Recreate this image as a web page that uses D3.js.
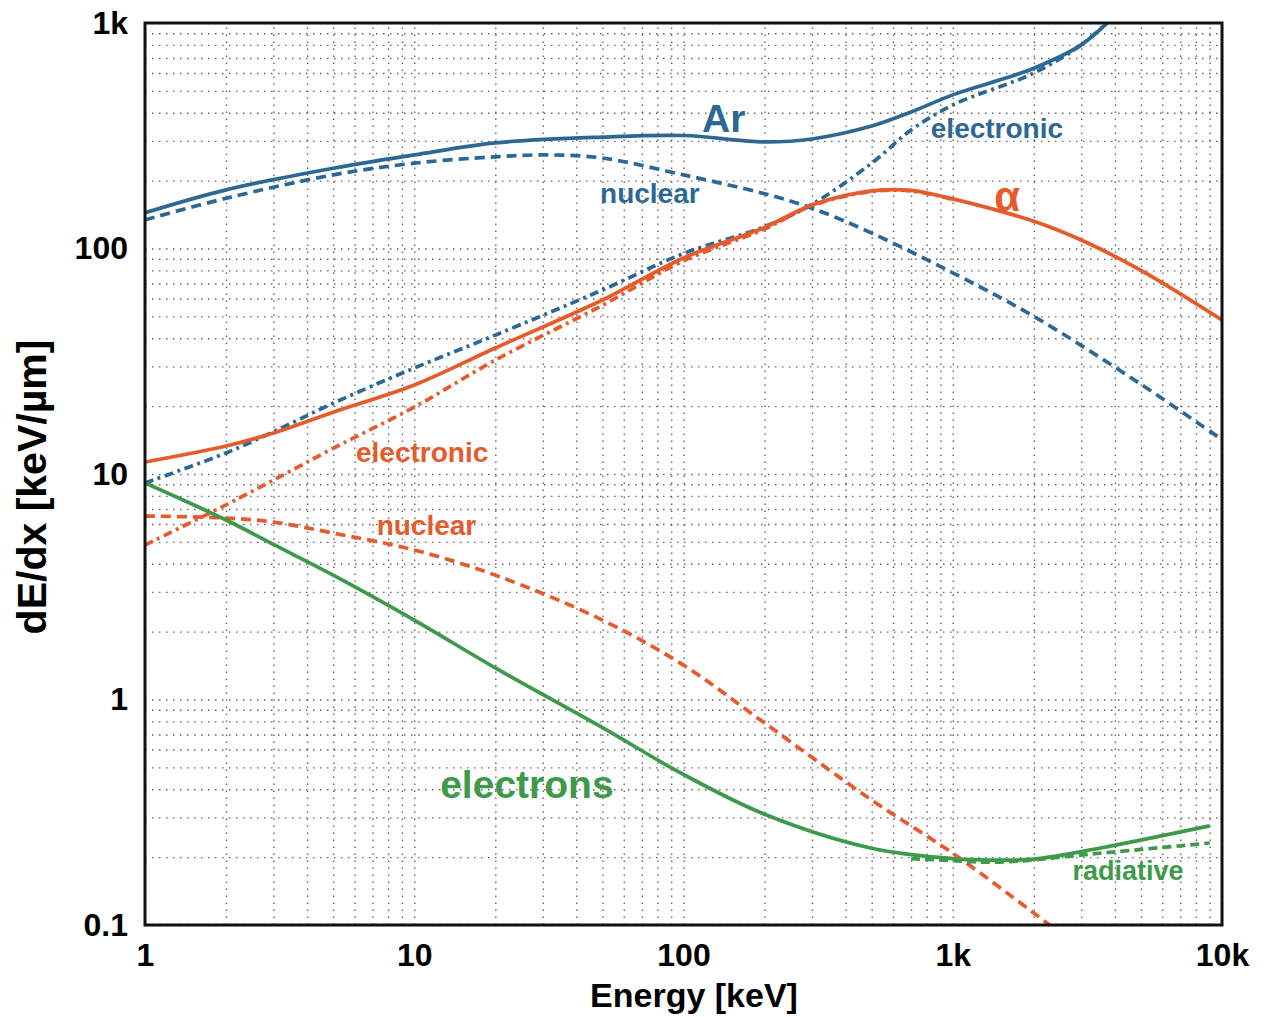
<!DOCTYPE html>
<html>
<head>
<meta charset="utf-8">
<script src="https://cdn.jsdelivr.net/npm/d3@7"></script>
<style>
  body { margin: 0; background: #fff; }
  text { font-family: "Liberation Sans", Arial, Helvetica, sans-serif; font-weight: bold; }
</style>
</head>
<body>
<svg id="chart"></svg>
<script>
// energies in keV, dE/dx in keV/um
var arE        = [1, 2, 5, 10, 20, 50, 100, 200, 300, 500, 700, 1000, 1500, 2000, 3000, 4000];
var arTotal    = [144, 182, 227, 260, 294, 312, 317, 297, 306, 349, 403, 480, 560, 630, 800, 1080];

var arNucE     = [1, 2, 5, 10, 20, 30, 50, 100, 200, 300, 500, 1000, 2000, 5000, 10000];
var arNuclear  = [134, 167, 212, 239, 255, 260, 252, 212, 175, 151, 117, 78, 50, 25, 14.2];

var arElE      = [1, 2, 3, 5, 10, 20, 50, 100, 200, 300, 500, 700, 1000, 2000, 3000, 4000];
var arElectr   = [9.12, 12.4, 15.4, 20.6, 29.5, 41.3, 65.5, 95, 125, 157, 239, 335, 433, 600, 800, 1080];

var alphaE     = [1, 2, 3, 5, 10, 20, 50, 100, 200, 300, 500, 700, 1000, 2000, 3000, 5000, 10000];
var alphaTotal = [11.3, 13.3, 15.2, 18.8, 24.8, 36.2, 59.1, 90.8, 124, 156, 180, 181, 166, 132, 109, 80, 48.2];

var alphaElE   = [1, 2, 3, 5, 10, 20, 50, 100, 200, 300, 500, 700, 1000];
var alphaElectr= [4.84, 7.3, 9.4, 13.0, 19.8, 32, 56, 88, 122, 155, 179, 180, 165];

var alphaNucE  = [1, 2, 3, 5, 10, 20, 50, 100, 200, 500, 1000, 2000, 3000];
var alphaNuc   = [6.51, 6.38, 6.12, 5.47, 4.6, 3.56, 2.25, 1.42, 0.787, 0.358, 0.208, 0.113, 0.078];

var elE        = [1, 2, 3, 5, 10, 20, 50, 100, 200, 500, 1000, 1500, 2000, 3500, 9000];
var elTotal    = [9.12, 6.25, 4.87, 3.56, 2.25, 1.38, 0.75, 0.465, 0.31, 0.219, 0.197, 0.194, 0.196, 0.219, 0.275];

var radE       = [700, 1000, 1500, 3500, 9000];
var radiative  = [0.197, 0.193, 0.19, 0.208, 0.231];

var xTicks = [1, 10, 100, 1000, 10000];
var xTickLabels = ["1", "10", "100", "1k", "10k"];
var yTicks = [0.1, 1, 10, 100, 1000];
var yTickLabels = ["0.1", "1", "10", "100", "1k"];

var blue = "#2c6893", orange = "#e65a2c", green = "#3e9a4a";

var width = 1264, height = 1017;
var margin = {left: 145, right: 42, top: 23, bottom: 92};
var plotW = width - margin.left - margin.right;
var plotH = height - margin.top - margin.bottom;

var svg = d3.select("#chart")
    .attr("width", width)
    .attr("height", height);

var x = d3.scaleLog().domain([1, 10000]).range([0, plotW]);
var y = d3.scaleLog().domain([0.1, 1000]).range([plotH, 0]);

var g = svg.append("g")
    .attr("transform", "translate(" + margin.left + "," + margin.top + ")");

// minor grid values 1..9 per decade
function minorVals(lo, hi) {
    var out = [];
    for (var p = lo; p < hi; p++) {
        for (var m = 1; m <= 9; m++) out.push(m * Math.pow(10, p));
    }
    out.push(Math.pow(10, hi));
    return out.map(function(v) { return +v.toPrecision(3); });
}

g.append("g")
    .attr("class", "grid")
    .attr("transform", "translate(0," + plotH + ")")
    .call(d3.axisBottom(x).tickValues(minorVals(0, 4)).tickSize(-plotH).tickFormat(""));
g.append("g")
    .attr("class", "grid")
    .call(d3.axisLeft(y).tickValues(minorVals(-1, 3)).tickSize(-plotW).tickFormat(""));
g.selectAll(".grid .domain").remove();
g.selectAll(".grid line")
    .attr("stroke", "#666")
    .attr("stroke-width", 1.4)
    .attr("stroke-dasharray", "1.5,5.5");

// clip curves to the plot box
svg.append("defs").append("clipPath").attr("id", "clip")
    .append("rect").attr("width", plotW).attr("height", plotH);

var line = d3.line()
    .x(function(d) { return x(d[0]); })
    .y(function(d) { return y(d[1]); })
    .curve(d3.curveCatmullRom.alpha(0.5));

function pairs(es, vs) {
    return es.map(function(e, i) { return [e, vs[i]]; });
}

var curves = [
    {e: arNucE, v: arNuclear, color: blue, dash: "10,6"},
    {e: arElE, v: arElectr, color: blue, dash: "9,4.5,3,4.5"},
    {e: alphaNucE, v: alphaNuc, color: orange, dash: "10,6"},
    {e: alphaElE, v: alphaElectr, color: orange, dash: "9,4.5,3,4.5"},
    {e: radE, v: radiative, color: green, dash: "9,5"},
    {e: elE, v: elTotal, color: green, dash: null},
    {e: alphaE, v: alphaTotal, color: orange, dash: null},
    {e: arE, v: arTotal, color: blue, dash: null}
];

var curveG = g.append("g").attr("clip-path", "url(#clip)");
curveG.selectAll("path")
    .data(curves)
    .enter()
    .append("path")
    .attr("d", function(d) { return line(pairs(d.e, d.v)); })
    .attr("fill", "none")
    .attr("stroke", function(d) { return d.color; })
    .attr("stroke-width", 3.7)
    .attr("stroke-dasharray", function(d) { return d.dash; });

// curve labels, placed in data coordinates
var notes = [
    {t: "Ar", e: 141, v: 379, c: blue, s: 39},
    {t: "nuclear", e: 75, v: 176, c: blue, s: 28},
    {t: "electronic", e: 1459, v: 342, c: blue, s: 28},
    {t: "α", e: 1591, v: 171, c: orange, s: 42},
    {t: "electronic", e: 10.7, v: 12.5, c: orange, s: 28},
    {t: "nuclear", e: 11.1, v: 5.94, c: orange, s: 28},
    {t: "electrons", e: 26.2, v: 0.422, c: green, s: 39},
    {t: "radiative", e: 4477, v: 0.174, c: green, s: 27}
];
g.selectAll(".note")
    .data(notes)
    .enter()
    .append("text")
    .attr("class", "note")
    .attr("x", function(d) { return x(d.e); })
    .attr("y", function(d) { return y(d.v); })
    .attr("dy", "0.36em")
    .attr("text-anchor", "middle")
    .attr("fill", function(d) { return d.c; })
    .attr("font-size", function(d) { return d.s + "px"; })
    .text(function(d) { return d.t; });

// frame
g.append("rect")
    .attr("width", plotW)
    .attr("height", plotH)
    .attr("fill", "none")
    .attr("stroke", "#111")
    .attr("stroke-width", 3);

// tick labels
var xAxis = g.append("g")
    .attr("transform", "translate(0," + plotH + ")")
    .call(d3.axisBottom(x).tickValues(xTicks).tickSize(0).tickPadding(18)
        .tickFormat(function(d, i) { return xTickLabels[i]; }));
var yAxis = g.append("g")
    .call(d3.axisLeft(y).tickValues(yTicks).tickSize(0).tickPadding(17)
        .tickFormat(function(d, i) { return yTickLabels[i]; }));
[xAxis, yAxis].forEach(function(a) {
    a.select(".domain").remove();
    a.selectAll("text")
        .attr("font-family", "Liberation Sans, Arial, sans-serif")
        .attr("font-weight", "bold")
        .attr("font-size", "32px")
        .attr("fill", "#000");
});

// axis titles
svg.append("text")
    .attr("x", 694)
    .attr("y", 1007)
    .attr("text-anchor", "middle")
    .attr("font-size", "34px")
    .attr("fill", "#000")
    .text("Energy [keV]");

svg.append("text")
    .attr("transform", "translate(46,487) rotate(-90)")
    .attr("text-anchor", "middle")
    .attr("font-size", "41px")
    .attr("fill", "#000")
    .text("dE/dx [keV/µm]");
</script>
</body>
</html>
